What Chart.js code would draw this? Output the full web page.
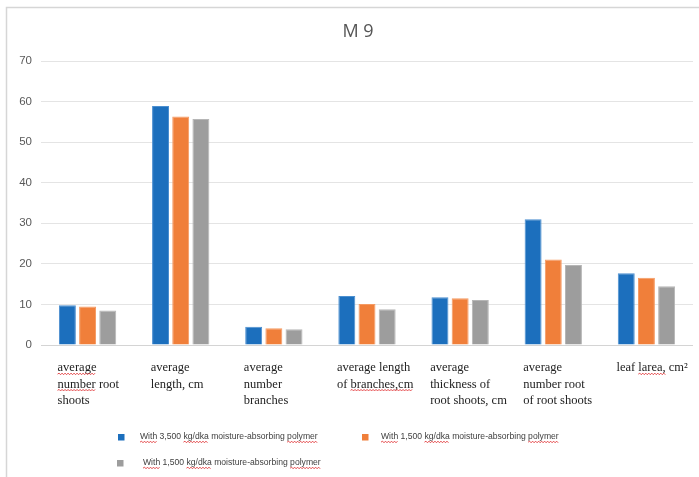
<!DOCTYPE html>
<html>
<head>
<meta charset="utf-8">
<script src="https://cdn.jsdelivr.net/npm/chart.js@4.4.1/dist/chart.umd.min.js"></script>
<style>
  html, body { margin: 0; padding: 0; background: #ffffff; }
  #wrap { width: 699px; height: 477px; position: relative; }
</style>
</head>
<body>
<div id="wrap"><canvas id="c" width="699" height="477"></canvas></div>
<script>
// Root and leaf measurements for rootstock M 9
const CATEGORIES = [
  ['average', 'number root', 'shoots'],
  ['average', 'length, cm'],
  ['average', 'number', 'branches'],
  ['average length', 'of branches,cm'],
  ['average', 'thickness of', 'root shoots, cm'],
  ['average', 'number root', 'of root shoots'],
  ['leaf larea, cm\u00b2']
];
const SERIES_NAMES = [
  'With 3,500 kg/dka moisture-absorbing polymer',
  'With 1,500 kg/dka moisture-absorbing polymer',
  'With 1,500 kg/dka moisture-absorbing polymer'
];
const DOSE_3500   = [9.8, 58.9, 4.5, 12.1, 11.8, 31.0, 17.7];
const DOSE_1500_A = [9.5, 56.3, 4.1, 10.1, 11.5, 21.1, 16.6];
const DOSE_1500_B = [8.5, 55.7, 3.9, 8.8, 11.1, 19.7, 14.5];
const Y_MIN = 0, Y_MAX = 70, Y_STEP = 10;

const COLORS = ['#1c6fbd', '#f07f3a', '#9d9d9d'];
const EDGES  = ['#4b8fd0', '#f59a62', '#b6b6b6'];

// words flagged by the spell checker: [category, line, word]
const LABEL_FLAGS = [[0, 0, 'average'], [0, 1, 'number'], [3, 1, 'branches,cm'], [6, 0, 'larea,']];
const LEGEND_FLAGS = ['With', 'kg/dka', 'polymer'];

const TICK_FONT = { family: '"Liberation Serif", serif', size: 12.5, lineHeight: 1.3 };
const TICK_PAD = 15;
const LABEL_SHIFT = -30;

function squiggle(ctx, x0, x1, y) {
  ctx.save();
  ctx.strokeStyle = '#e2393b';
  ctx.lineWidth = 0.9;
  ctx.beginPath();
  let up = true;
  ctx.moveTo(x0, y);
  for (let x = x0 + 1.5; x <= x1; x += 1.5) {
    ctx.lineTo(x, up ? y - 1 : y + 0.6);
    up = !up;
  }
  ctx.stroke();
  ctx.restore();
}

const framePlugin = {
  id: 'frame',
  afterLayout(chart) {
    // centre the title a little right of the canvas middle
    if (chart.titleBlock) chart.titleBlock.left = 23;
  },
  beforeDraw(chart) {
    const ctx = chart.ctx;
    ctx.save();
    ctx.fillStyle = '#ffffff';
    ctx.fillRect(0, 0, chart.width, chart.height);
    ctx.strokeStyle = '#d6d6d6';
    ctx.lineWidth = 1.5;
    ctx.beginPath();
    ctx.moveTo(6.5, chart.height);
    ctx.lineTo(6.5, 7.5);
    ctx.lineTo(chart.width, 7.5);
    ctx.stroke();
    ctx.restore();
  }
};

const annotatePlugin = {
  id: 'annotate',
  afterDraw(chart) {
    const ctx = chart.ctx;
    const xs = chart.scales.x;
    // underline flagged words in the category labels
    ctx.save();
    ctx.font = TICK_FONT.size + 'px ' + TICK_FONT.family;
    const lh = TICK_FONT.size * TICK_FONT.lineHeight;
    const top = xs.top + TICK_PAD;
    LABEL_FLAGS.forEach(([ci, li, word]) => {
      const line = CATEGORIES[ci][li];
      const idx = line.indexOf(word);
      const left = xs.getPixelForTick(ci) + LABEL_SHIFT;
      const x0 = left + ctx.measureText(line.slice(0, idx)).width;
      const x1 = x0 + ctx.measureText(word).width;
      const y = top + lh / 2 + li * lh + 6;
      squiggle(ctx, x0, x1, y);
    });
    ctx.restore();

    // legend
    const items = [
      { ds: 0, bx: 118, by: 434, tx: 140, ty: 437 },
      { ds: 1, bx: 362, by: 434, tx: 381, ty: 437 },
      { ds: 2, bx: 117, by: 460, tx: 143, ty: 463 }
    ];
    ctx.save();
    ctx.font = '10px "Liberation Sans", sans-serif';
    const w10 = ctx.measureText(SERIES_NAMES[0]).width;
    const fs = 10 * 178 / w10;
    ctx.font = fs + 'px "Liberation Sans", sans-serif';
    ctx.textBaseline = 'middle';
    items.forEach(it => {
      const ds = chart.data.datasets[it.ds];
      ctx.fillStyle = ds.backgroundColor;
      ctx.fillRect(it.bx, it.by, 6.5, 6.5);
      ctx.fillStyle = '#404040';
      ctx.fillText(ds.label, it.tx, it.ty);
      LEGEND_FLAGS.forEach(word => {
        const idx = ds.label.indexOf(word);
        if (idx < 0) return;
        const x0 = it.tx + ctx.measureText(ds.label.slice(0, idx)).width;
        const x1 = x0 + ctx.measureText(word).width;
        squiggle(ctx, x0, x1, it.ty + fs * 0.6);
      });
    });
    ctx.restore();
  }
};

new Chart(document.getElementById('c'), {
  type: 'bar',
  data: {
    labels: CATEGORIES,
    datasets: [
      { label: SERIES_NAMES[0], data: DOSE_3500,   backgroundColor: COLORS[0], borderColor: EDGES[0] },
      { label: SERIES_NAMES[1], data: DOSE_1500_A, backgroundColor: COLORS[1], borderColor: EDGES[1] },
      { label: SERIES_NAMES[2], data: DOSE_1500_B, backgroundColor: COLORS[2], borderColor: EDGES[2] }
    ]
  },
  options: {
    responsive: false,
    animation: false,
    devicePixelRatio: 1,
    layout: { padding: { left: 6, right: 6, top: 0, bottom: 62 } },
    datasets: {
      bar: { categoryPercentage: 0.65, barPercentage: 0.84, borderWidth: 1 }
    },
    plugins: {
      legend: { display: false },
      tooltip: { enabled: false },
      title: {
        display: true,
        text: 'M 9',
        color: '#555555',
        font: { family: '"Open Sans", sans-serif', size: 18, weight: 'normal', lineHeight: 1.2 },
        padding: { top: 21, bottom: 18.4 }
      }
    },
    scales: {
      x: {
        grid: { display: false, drawTicks: false },
        border: { display: false },
        ticks: {
          color: '#222222',
          font: TICK_FONT,
          padding: TICK_PAD,
          maxRotation: 0,
          minRotation: 0,
          autoSkip: false,
          align: 'start',
          labelOffset: LABEL_SHIFT
        },
        afterFit(s) {
          s.height = 70;
          // labels hang left of their ticks, so no side room is needed
          s.paddingLeft = 0;
          s.paddingRight = 0;
        }
      },
      y: {
        min: Y_MIN,
        max: Y_MAX,
        border: { display: false },
        grid: {
          drawTicks: false,
          color: ctx => ctx.tick && ctx.tick.value === 0 ? '#d4d4d4' : '#e4e4e4',
          lineWidth: 1
        },
        ticks: {
          stepSize: Y_STEP,
          padding: 9,
          color: '#595959',
          font: { family: '"Liberation Sans", sans-serif', size: 11.5 }
        },
        afterFit(s) { s.width = 35; }
      }
    }
  },
  plugins: [framePlugin, annotatePlugin]
});
</script>
</body>
</html>
